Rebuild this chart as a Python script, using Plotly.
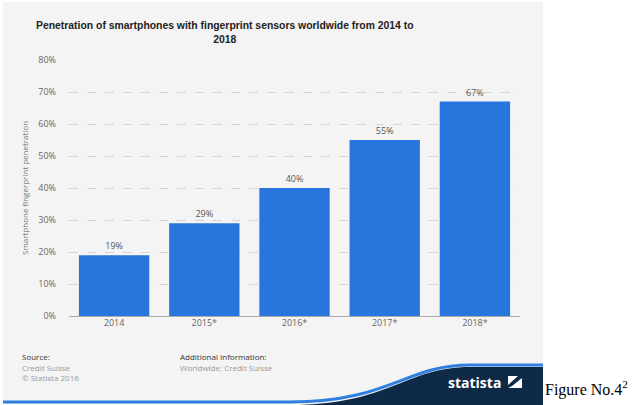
import plotly.graph_objects as go

W, H = 633, 405
L, R, T, B = 69, 520, 60, 316  # plot area in pixels

categories = ["2014", "2015*", "2016*", "2017*", "2018*"]
values = [19, 29, 40, 55, 67]
value_labels = ["19%", "29%", "40%", "55%", "67%"]
y_ticks = [0, 10, 20, 30, 40, 50, 60, 70, 80]
y_tick_labels = ["0%", "10%", "20%", "30%", "40%", "50%", "60%", "70%", "80%"]

title_text = "Penetration of smartphones with fingerprint sensors worldwide from 2014 to<br>2018"
y_title = "Smartphone fingerprint penetration"


def px(x):
    return (x - L) / (R - L)


def py(y):
    return (B - y) / (B - T)


fig = go.Figure()
fig.add_trace(go.Bar(
    x=categories, y=values,
    marker=dict(color="#2876dd", line=dict(width=0)),
    text=value_labels, textposition="outside",
    textfont=dict(size=9, color="#555555", family="Open Sans"),
    cliponaxis=False,
    width=0.78,
    hoverinfo="skip",
))

shapes = []
# image background
shapes.append(dict(type="rect", xref="paper", yref="paper",
                   x0=px(3), x1=px(543), y0=py(404), y1=py(2),
                   fillcolor="#f4f4f4", line=dict(width=0), layer="below"))
# navy wave
shapes.append(dict(type="path", xref="paper", yref="paper",
                   path=f"M {px(290)},{py(405)} C {px(390)},{py(405)} {px(405)},{py(367)} {px(470)},{py(367)} "
                        f"L {px(543)},{py(367)} L {px(543)},{py(405)} Z",
                   fillcolor="#0e2a47", line=dict(width=0), layer="above"))
# blue line
shapes.append(dict(type="path", xref="paper", yref="paper",
                   path=f"M {px(3)},{py(402)} L {px(290)},{py(402)} C {px(390)},{py(402)} {px(405)},{py(365)} {px(470)},{py(365)} "
                        f"L {px(543)},{py(365)}",
                   line=dict(color="#2f7fe0", width=3), layer="above"))
# logo icon
shapes.append(dict(type="rect", xref="paper", yref="paper",
                   x0=px(508), x1=px(522), y0=py(388), y1=py(376),
                   fillcolor="#ffffff", line=dict(width=0), layer="above"))
shapes.append(dict(type="path", xref="paper", yref="paper",
                   path=f"M {px(508)},{py(385)} L {px(518)},{py(376)} L {px(522)},{py(376)} L {px(522)},{py(378)} L {px(512)},{py(386)} L {px(508)},{py(388)} Z",
                   fillcolor="#0e2a47", line=dict(width=0), layer="above"))

annotations = []
annotations.append(dict(text=f"<b>{title_text}</b>", xref="paper", yref="paper",
                        x=px(225), y=py(32), xanchor="center", yanchor="middle",
                        showarrow=False, align="center",
                        font=dict(size=10.4, color="#222222", family="Liberation Sans")))
annotations.append(dict(text=y_title, xref="paper", yref="paper",
                        x=px(24), y=py(188), textangle=-90, xanchor="center", yanchor="middle",
                        showarrow=False, font=dict(size=8, color="#777777", family="Open Sans")))
foot = [
    ("Source:", 20, 356, "#333333", 8),
    ("Credit Suisse", 20, 367, "#999999", 8),
    ("© Statista 2016", 20, 377, "#999999", 8),
    ("Additional Information:", 178, 356, "#333333", 8),
    ("Worldwide; Credit Suisse", 178, 367, "#999999", 8),
]
for t, x, y, c, s in foot:
    annotations.append(dict(text=t, xref="paper", yref="paper", x=px(x), y=py(y),
                            xanchor="left", yanchor="middle", showarrow=False,
                            font=dict(size=s, color=c, family="Open Sans")))
annotations.append(dict(text="<b>statista</b>", xref="paper", yref="paper", x=px(503), y=py(382),
                        xanchor="right", yanchor="middle", showarrow=False,
                        font=dict(size=14, color="#ffffff", family="Open Sans")))
annotations.append(dict(text="Figure No.4<sup>2</sup>", xref="paper", yref="paper", x=px(543), y=py(388),
                        xanchor="left", yanchor="middle", showarrow=False,
                        font=dict(size=16, color="#000000", family="Liberation Serif")))

fig.update_layout(
    width=W, height=H,
    margin=dict(l=L, r=W - R, t=T, b=H - B, autoexpand=False),
    paper_bgcolor="#ffffff", plot_bgcolor="rgba(0,0,0,0)",
    showlegend=False,
    bargap=0.22,
    shapes=shapes,
    annotations=annotations,
    xaxis=dict(showgrid=False, showline=False, ticks="",
               tickfont=dict(size=9, color="#666666", family="Open Sans"), fixedrange=True),
    yaxis=dict(range=[0, 80], tickvals=y_ticks, ticktext=y_tick_labels,
               showgrid=True, gridcolor="#d4d4d4", griddash="dash", gridwidth=1,
               zeroline=True, zerolinecolor="#aaaaaa", zerolinewidth=1,
               showline=False, ticks="", ticklabelstandoff=12,
               tickfont=dict(size=9, color="#666666", family="Open Sans"), fixedrange=True),
)

fig.write_html("out.html")
